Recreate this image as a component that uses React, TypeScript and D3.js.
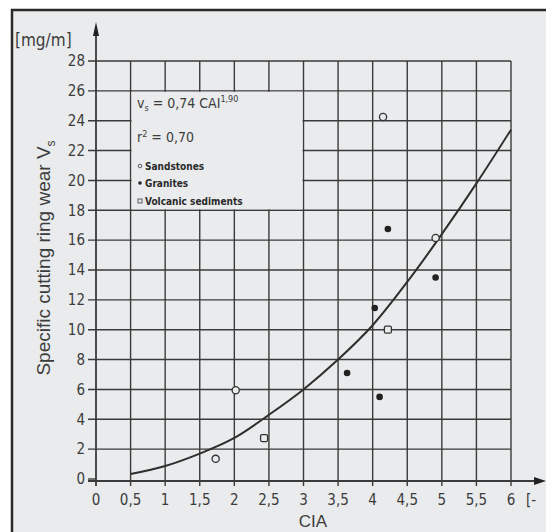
import * as d3 from "d3";

const xTicks = [0, 0.5, 1, 1.5, 2, 2.5, 3, 3.5, 4, 4.5, 5, 5.5, 6];
const xTickLabels = ["0", "0,5", "1", "1,5", "2", "2,5", "3", "3,5", "4", "4,5", "5", "5,5", "6"];
const yTicks = [0, 2, 4, 6, 8, 10, 12, 14, 16, 18, 20, 22, 24, 26, 28];

const fitCia = [0.5, 1, 1.5, 2, 2.5, 3, 3.5, 4, 4.5, 5, 5.5, 6];
const fitWear = [0.33, 0.87, 1.7, 2.75, 4.3, 6.0, 8.0, 10.3, 13.2, 16.4, 19.8, 23.4];

const sandCia = [1.73, 2.02, 4.15, 4.91];
const sandWear = [1.35, 5.95, 24.25, 16.15];
const graniteCia = [4.22, 4.91, 4.03, 3.63, 4.1];
const graniteWear = [16.75, 13.5, 11.45, 7.1, 5.5];
const volcCia = [2.43, 4.22];
const volcWear = [2.74, 10.0];

const W = 546;
const H = 532;
const BG = "#e9ebec";
const INK = "#3a3a3a";
const TXT = "#3c3c3c";
const FONT = "'Liberation Sans Narrow', 'DejaVu Sans Condensed', 'Liberation Sans', Arial, sans-serif";

export default function App() {
  const x = d3.scaleLinear().domain([0, 6]).range([96, 511]);
  const y = d3.scaleLinear().domain([0, 28]).range([479, 61]);

  const line = d3
    .line<number>()
    .x((_, i) => x(fitCia[i]))
    .y((d) => y(d))
    .curve(d3.curveMonotoneX);

  const gridX = xTicks.filter((t) => t > 0);
  const gridY = yTicks.filter((t) => t > 0);

  return (
    <svg
      width={W}
      height={H}
      style={{ position: "absolute", left: 0, top: 0, background: "#fff" }}
    >
      {/* scanned page frame */}
      <rect x={12} y={10} width={W - 12} height={H - 10} fill={BG} />
      <line x1={11} x2={W} y1={10} y2={10} stroke="#2a2a2a" strokeWidth={2.5} />
      <line x1={12} x2={12} y1={9} y2={H} stroke="#2a2a2a" strokeWidth={2.5} />

      {/* grid */}
      <g stroke={INK} strokeWidth={1.4}>
        {gridX.map((t) => (
          <line key={"gx" + t} x1={x(t)} x2={x(t)} y1={y(28)} y2={y(0) + 7} />
        ))}
        {gridY.map((t) => (
          <line key={"gy" + t} x1={x(0) - 8} x2={x(6)} y1={y(t)} y2={y(t)} />
        ))}
        <line x1={x(0) - 8} x2={x(0)} y1={y(0)} y2={y(0)} />
      </g>

      {/* legend panel masks grid */}
      <rect
        x={x(0.5) + 1}
        y={y(26) + 1}
        width={x(3) - x(0.5) - 2}
        height={y(18) - y(26) - 2}
        fill={BG}
      />

      {/* axes with arrows */}
      <line x1={x(0)} x2={x(0)} y1={y(0) + 7} y2={26} stroke={INK} strokeWidth={1.8} />
      <path d={`M${x(0)},22 L${x(0) - 3},36 L${x(0) + 3},36 Z`} fill="#222" />
      <line x1={x(0) - 8} x2={538} y1={y(0) + 2} y2={y(0) + 2} stroke={INK} strokeWidth={1.8} />
      <path d={`M546,${y(0) + 2} L534,${y(0) - 2} L534,${y(0) + 6} Z`} fill="#222" />

      {/* tick labels */}
      <g fontFamily={FONT} fontSize={15} fill={TXT}>
        {yTicks.map((t) => (
          <text key={"yl" + t} x={x(0) - 11} y={y(t)} dy="0.35em" textAnchor="end">
            {t}
          </text>
        ))}
        {xTicks.map((t, i) => (
          <text key={"xl" + t} x={x(t)} y={505} textAnchor="middle">
            {xTickLabels[i]}
          </text>
        ))}
        <text x={526} y={505}>[-</text>
      </g>

      {/* axis titles */}
      <text x={15} y={46} fontFamily={FONT} fontSize={17} fill={TXT}>
        [mg/m]
      </text>
      <text
        transform={`translate(50,258) rotate(-90)`}
        textAnchor="middle"
        fontFamily="'Liberation Sans', Arial, sans-serif"
        fontSize={19}
        fill={TXT}
      >
        Specific cutting ring wear V
        <tspan fontSize={12} dy={5}>s</tspan>
      </text>
      <text x={313} y={527} textAnchor="middle" fontFamily="'Liberation Sans', Arial, sans-serif" fontSize={17} fill={TXT}>
        CIA
      </text>

      {/* legend content */}
      <g fontFamily={FONT} fill={TXT}>
        <text x={137} y={108} fontSize={14}>
          v<tspan fontSize={9} dy={3}>s</tspan>
          <tspan dy={-3}> = 0,74 CAI</tspan>
          <tspan fontSize={9} dy={-6}>1,90</tspan>
        </text>
        <text x={137} y={142} fontSize={14}>
          r<tspan fontSize={9} dy={-5}>2</tspan>
          <tspan dy={5}> = 0,70</tspan>
        </text>
        <g fontSize={10} fontWeight="bold" fill="#2a2a2a">
          <circle cx={140} cy={166} r={1.8} fill="none" stroke={INK} strokeWidth={0.8} />
          <text x={145} y={170}>Sandstones</text>
          <circle cx={140} cy={183} r={1.8} fill="#222" />
          <text x={145} y={187}>Granites</text>
          <rect x={138} y={199} width={4} height={4} fill="none" stroke={INK} strokeWidth={0.8} />
          <text x={145} y={205}>Volcanic sediments</text>
        </g>
      </g>

      {/* fit curve */}
      <path d={line(fitWear) || ""} fill="none" stroke="#2e2e2e" strokeWidth={2} />

      {/* data points */}
      {sandCia.map((c, i) => (
        <circle key={"s" + i} cx={x(c)} cy={y(sandWear[i])} r={3.6} fill={BG} stroke="#333" strokeWidth={1.3} />
      ))}
      {graniteCia.map((c, i) => (
        <circle key={"g" + i} cx={x(c)} cy={y(graniteWear[i])} r={3.3} fill="#222" />
      ))}
      {volcCia.map((c, i) => (
        <rect
          key={"v" + i}
          x={x(c) - 3.5}
          y={y(volcWear[i]) - 3.5}
          width={7}
          height={7}
          rx={1.5}
          fill={BG}
          stroke="#333"
          strokeWidth={1.3}
        />
      ))}
    </svg>
  );
}
